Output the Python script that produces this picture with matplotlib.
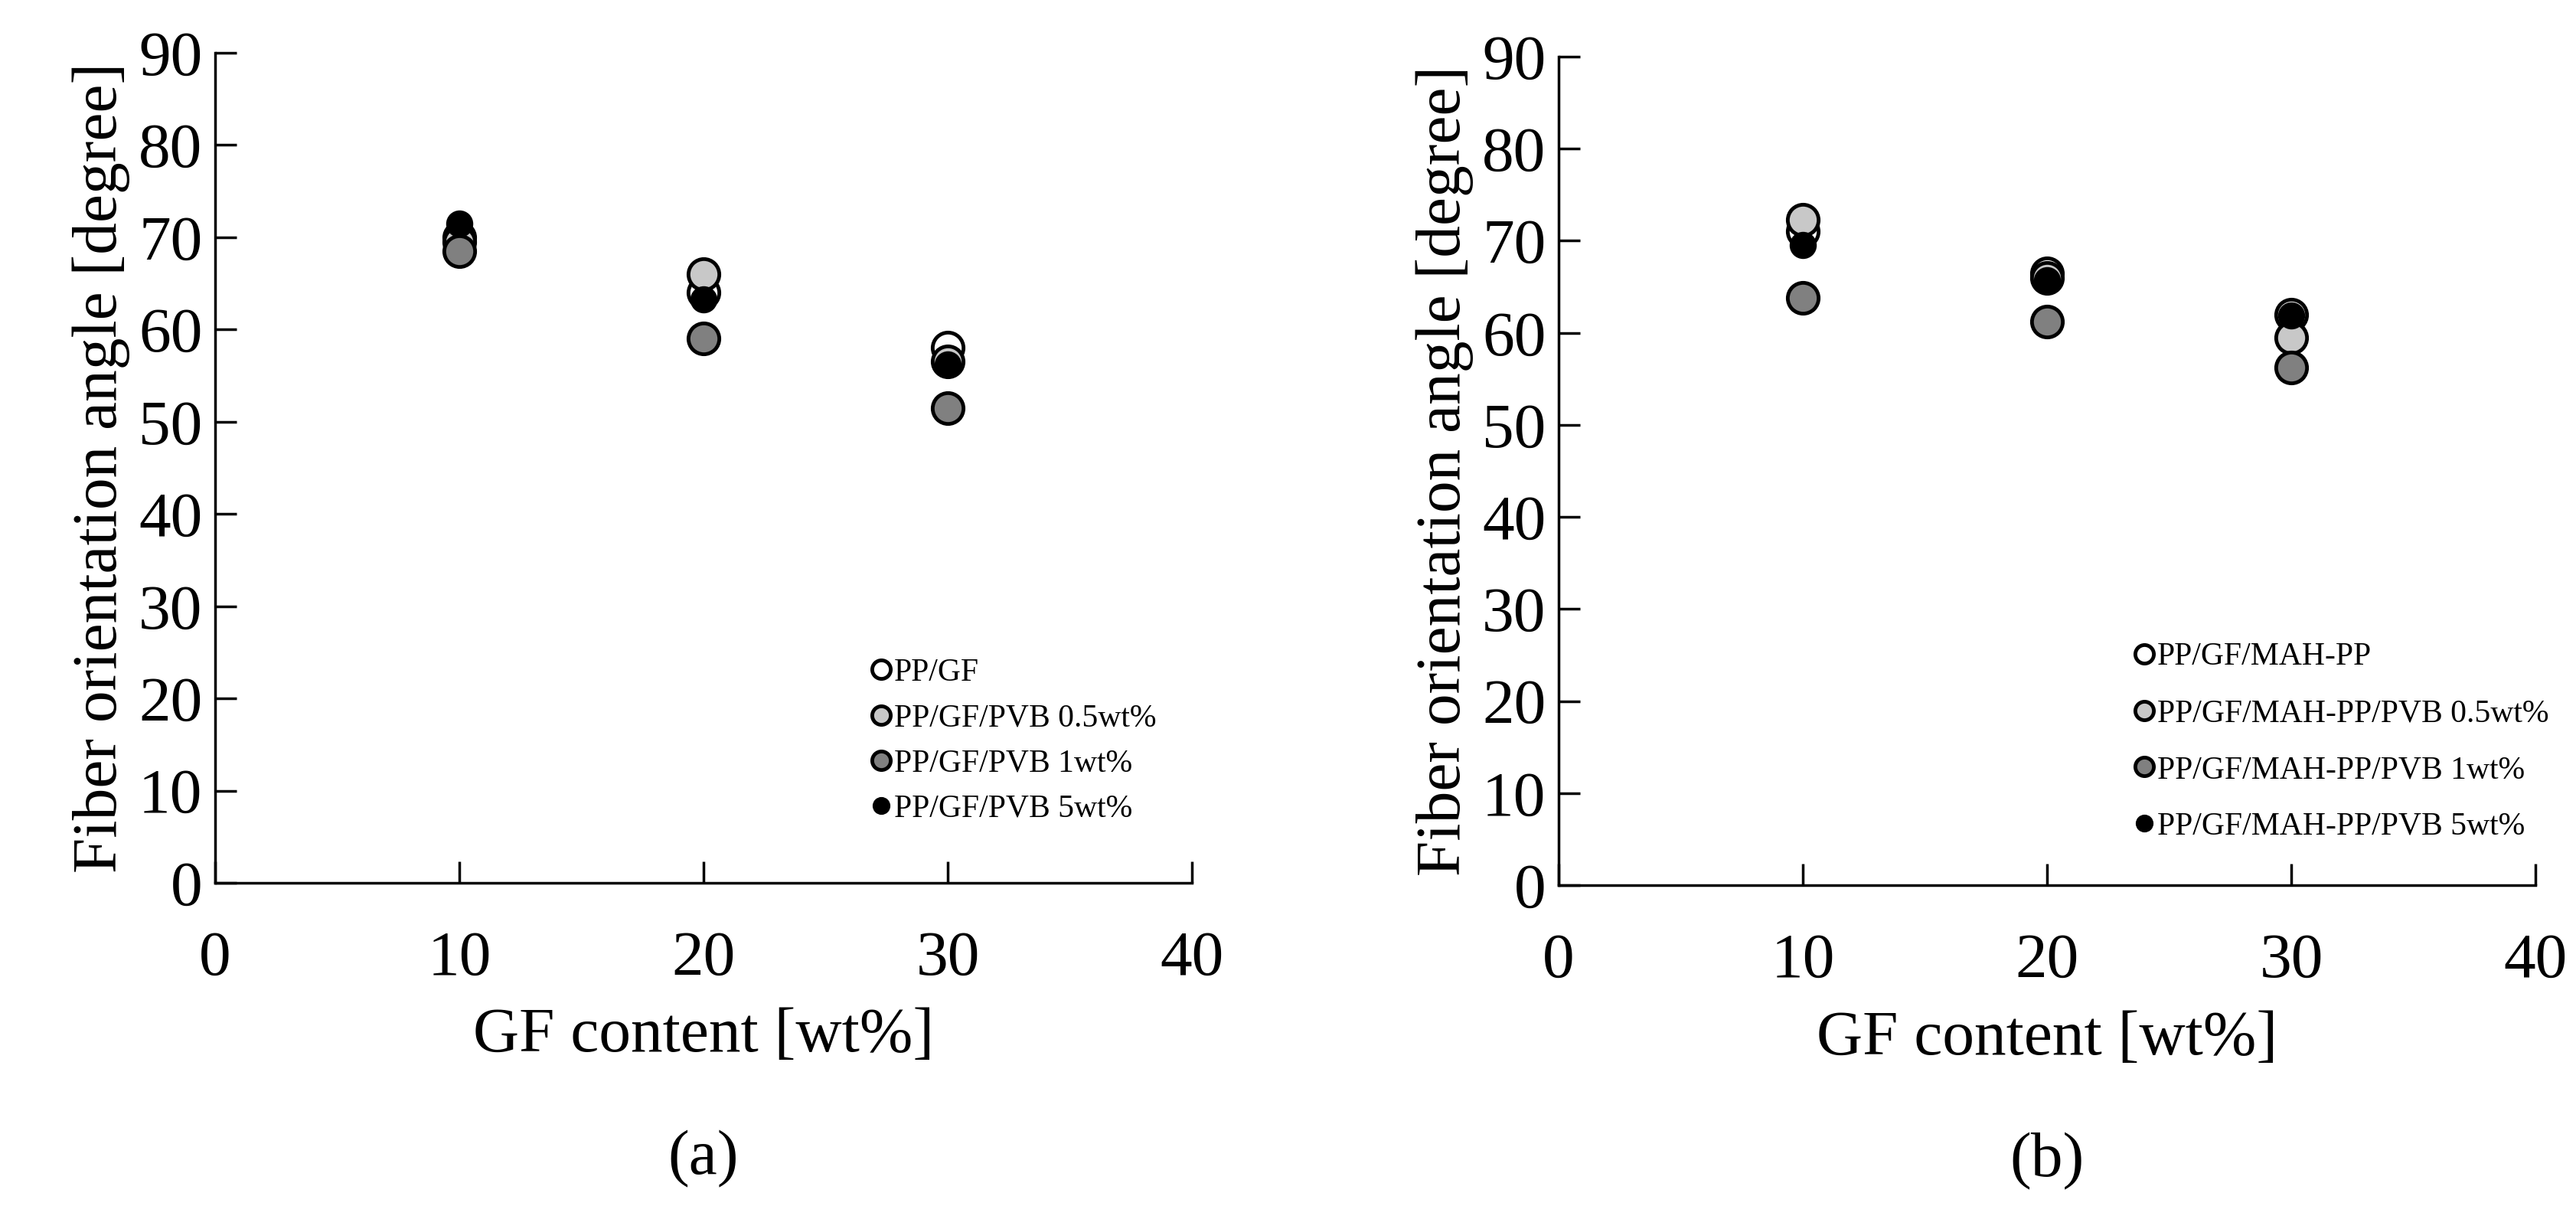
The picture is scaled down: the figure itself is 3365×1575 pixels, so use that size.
import matplotlib
matplotlib.use("Agg")
import matplotlib.pyplot as plt

plt.rcParams['font.family'] = ['Liberation Serif', 'DejaVu Serif']

x = [10, 20, 30]
labels_a = ["PP/GF", "PP/GF/PVB 0.5wt%", "PP/GF/PVB 1wt%", "PP/GF/PVB 5wt%"]
a_pp_gf = [70.0, 64.0, 58.0]
a_pvb05 = [69.5, 66.0, 56.5]
a_pvb1 = [68.5, 59.0, 51.5]
a_pvb5 = [71.5, 63.3, 56.2]
labels_b = ["PP/GF/MAH-PP", "PP/GF/MAH-PP/PVB 0.5wt%", "PP/GF/MAH-PP/PVB 1wt%", "PP/GF/MAH-PP/PVB 5wt%"]
b_mah = [71.0, 66.5, 62.0]
b_pvb05 = [72.3, 66.0, 59.5]
b_pvb1 = [63.8, 61.2, 56.2]
b_pvb5 = [69.5, 65.7, 61.9]
xticks = [0, 10, 20, 30, 40]
yticks = list(range(0, 100, 10))

styles = [("white", 29), ("#c8c8c8", 29), ("#808080", 29), ("black", 22)]

W, H = 3366, 1575
fig = plt.figure(figsize=(W/100, H/100), dpi=100)
axes = [fig.add_axes([281/W, 1-1153/H, 1276/W, 1084/H]),
        fig.add_axes([2036/W, 1-1156/H, 1276/W, 1082/H])]
datasets = [[a_pp_gf, a_pvb05, a_pvb1, a_pvb5], [b_mah, b_pvb05, b_pvb1, b_pvb5]]
labelsets = [labels_a, labels_b]
tags = ["(a)", "(b)"]
legpos = [(0.636, 0.171), (0.554, 0.173)]
spacing = [0.5, 0.85]
for ax, ds, lb, tag, lp, sp in zip(axes, datasets, labelsets, tags, legpos, spacing):
    for (fc, ms), y, l in zip(styles, ds, lb):
        ax.plot(x, y, linestyle='none', marker='o', markersize=ms, markerfacecolor=fc,
                markeredgecolor='black', markeredgewidth=3.5, label=l)
    ax.set_xlim(0, 40)
    ax.set_ylim(0, 90)
    ax.set_xticks(xticks)
    ax.set_yticks(yticks)
    ax.spines['top'].set_visible(False)
    ax.spines['right'].set_visible(False)
    for s in ['left', 'bottom']:
        ax.spines[s].set_linewidth(2.5)
    ax.tick_params(direction='in', length=20, width=2.5, labelsize=60)
    ax.tick_params(axis='x', pad=45)
    ax.tick_params(axis='y', pad=12)
    ax.set_xlabel("GF content [wt%]", fontsize=60, labelpad=18)
    ax.set_ylabel("Fiber orientation angle [degree]", fontsize=60, labelpad=8)
    ax.text(0.5, -(1514 - 1153) / 1084, tag, transform=ax.transAxes, ha='center', va='center', fontsize=60)
    ax.legend(loc='center left', bbox_to_anchor=lp, frameon=False, fontsize=30,
              handletextpad=-0.1, labelspacing=sp, handlelength=1.0, markerscale=0.6)
fig.savefig("out.png", dpi=100)
